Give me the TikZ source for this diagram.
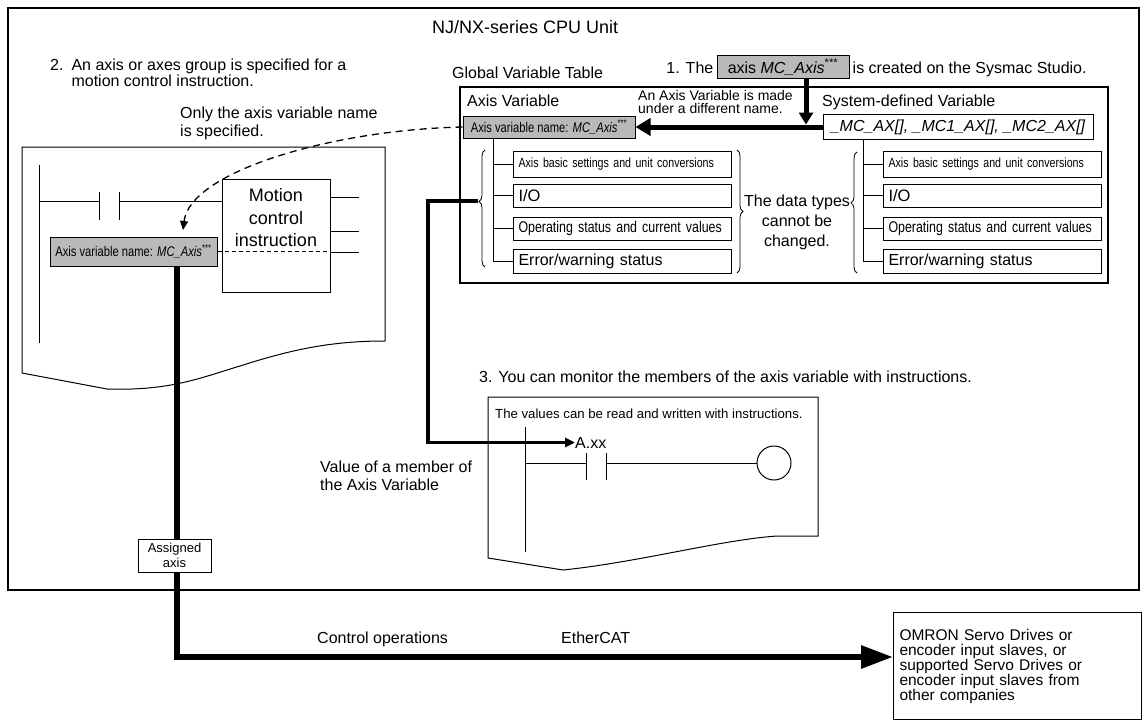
\documentclass[tikz,border=0pt]{standalone}
\usepackage{fontspec}
\setmainfont{Liberation Sans}
\newfontfamily\narrowfont[FakeStretch=0.8]{Liberation Sans}
\usepackage{tikz}
\usetikzlibrary{positioning}
\usetikzlibrary{shapes,decorations.pathreplacing,calc,arrows.meta}
\newcommand{\fs}[2]{\fontsize{#1}{#2}\selectfont}
\newcommand{\axisname}{\textit{MC\_Axis}\textsuperscript{***}}
\tikzset{
	frame/.style = {line width=2pt},
	table/.style = {line width=1.1pt},
	ladder/.style = {line width=1pt},
	txt/.style = {inner sep=0pt, align=left, font=\fs{16}{18}},
	namebox/.style = {draw, fill=gray!55, line width=1pt, inner xsep=2pt, inner ysep=0pt},
	member/.style = {draw, line width=1pt, anchor=west, minimum width=218pt,
	 text width=208pt, inner xsep=5pt, inner ysep=0pt, align=left},
	bus/.style = {line width=6pt, -{Triangle[length=32pt,width=22pt]}},
	fat/.style = {line width=5pt},
	probe/.style = {line width=3.5pt, -{Triangle[length=10pt,width=9pt]}},
	curly/.style = {decorate, line width=0.8pt, decoration={brace, amplitude=6pt, aspect=#1}},
	curly/.default = 0.5,
}

\begin{document}
\begin{tikzpicture}[x=1pt, y=-1pt]
\useasboundingbox (0,0) rectangle (1146,720);

% CPU Unit
\draw[frame] (8,8) rectangle (1139,590);
\node (cpu) [txt, font=\fs{18}{20}, anchor=base west] at (432,34) {NJ/NX-series CPU Unit};

% 2. instruction program (base = last line)
\node (step2) [txt, anchor=base west, font=\fs{16}{14}] at (50,86) {2.\enspace An axis or axes group is specified for a\\\phantom{2.\enspace}motion control instruction.};
\node (only) [txt, anchor=base west] at (180,136) {Only the axis variable name\\is specified.};
\draw[ladder] (385,341) -- (385,147) -- (22,147) -- (22,373) -- (107,389)
	.. controls (170,391) and (200,378) .. (240,366) .. controls (290,350) and (330,341) .. (385,341);
\draw[ladder] (39,165) -- (39,343);
\draw[ladder] (39,201) -- (99,201) (99,192) -- (99,220) (119,192) -- (119,220) (119,201) -- (222,201);
\node (mci) [draw, ladder, fill=white, minimum width=108pt, minimum height=113pt] at (276,235.5) {};
\node [txt, align=center, font=\fs{18}{22.5}, anchor=base] at (276,246.5) {Motion\\control\\instruction};
\foreach \y in {197,231,252} \draw[ladder] (330,\y) -- (359,\y);
\node (avname1) [namebox, minimum width=167pt, minimum height=29pt, font=\narrowfont\fs{14}{14}] at (133.5,251.5) {Axis variable name: \axisname};
\draw[ladder, dash pattern=on 4pt off 3pt] (avname1.east) -- (avname1.east -| mci.east);

% global variable table
\node (gvt) [txt, anchor=base west] at (452,78) {Global Variable Table};
\draw[table] (460,87) rectangle (1108,283);
\node (axisnew) [namebox, font=\fs{16}{16}, minimum width=132pt, minimum height=23pt, inner xsep=1.5pt] at (783,67) {axis \axisname};
\node [txt, anchor=base east] at ([xshift=-3pt]axisnew.base west) {1. The};
\node [txt, anchor=base west] at ([xshift=3pt]axisnew.base east) {is created on the Sysmac Studio.};
\node (axvar) [txt, anchor=base west] at (467,106) {Axis Variable};
\node (madenote) [txt, anchor=base west, font=\fs{14}{13.5}] at (638,113.5) {An Axis Variable is made\\under a different name.};
\node (sysdef) [txt, anchor=base west] at (822,106) {System-defined Variable};
\node (avname2) [namebox, minimum width=172pt, minimum height=22pt, font=\narrowfont\fs{14}{14}] at (549,127) {Axis variable name: \axisname};
\node (sysvar) [draw, ladder, minimum width=270pt, minimum height=25pt, inner sep=0pt, font=\fs{16}{16}\itshape] at (958,127) {\_MC\_AX[], \_MC1\_AX[], \_MC2\_AX[]};
\coordinate (made) at (806,127);
\draw[fat] (sysvar.west) -- (made);
\draw[fat, -{Triangle[length=15pt,width=17pt]}] (made) -- (avname2.east);
\draw[fat, -{Triangle[length=12pt,width=14pt]}] (axisnew.south -| made) -- ([yshift=2.5pt]made);

% members of both variables
\foreach \side/\x in {a/513, s/883} {
	\node (\side1) [member, minimum height=26pt, font=\narrowfont\fs{13.3}{14}] at (\x,164) {Axis basic settings and unit conversions};
	\node (\side2) [member, minimum height=23pt, font=\fs{16.5}{17}] at (\x,195.5) {I/O};
	\node (\side3) [member, minimum height=23pt, font=\narrowfont\fs{15.5}{16}] at (\x,228.5) {Operating status and current values};
	\node (\side4) [member, minimum height=24pt, font=\fs{16}{17}] at (\x,261) {Error/warning status};
}
\coordinate (treea) at (493,138);
\coordinate (trees) at (863,140);
\foreach \side in {a,s} {
	\foreach \n in {1,2,3} \draw[ladder] (tree\side |- \side\n.west) -- (\side\n.west);
	\draw[ladder] (tree\side) |- (\side4.west);
}
\draw[curly=0.56] (485,267) -- (485,150);
\draw[curly] (737,150) -- (737,273);
\draw[curly=0.58] (857,273) -- (857,152);
\node (fixed) [txt, align=center, anchor=base, font=\fs{16}{20}] at (797,246) {The data types\\cannot be\\changed.};
\coordinate (pick) at (478,201);

% 3. monitoring
\node (step3) [txt, anchor=base west] at (479,382) {3. You can monitor the members of the axis variable with instructions.};
\draw[ladder] (818,536) -- (818,397) -- (488,397) -- (488,558) -- (563,570)
	.. controls (640,562) and (720,540) .. (777,536) -- cycle;
\node (rw) [txt, anchor=base west, font=\fs{13.2}{14}] at (495,418) {The values can be read and written with instructions.};
\draw[ladder] (525,427) -- (525,552);
\node (coil) [circle, draw, ladder, minimum size=34pt, inner sep=0pt] at (774,463) {};
\draw[ladder] (525,463) -- (586,463) (586,453) -- (586,480) (606,453) -- (606,480) (606,463) -- (coil.west);
\node (axx) [txt, anchor=base west] at (575,448) {A.xx};
\draw[probe] (pick) -- ++(-50,0) |- (axx.west);
\node (member) [txt, anchor=base west] at (320,490) {Value of a member of\\the Axis Variable};

% name link
\coordinate (drop) at (183,230);
\draw[line width=1.3pt, dash pattern=on 7pt off 5pt, -{Triangle[length=9pt,width=8pt]}] (avname2.west) .. controls (330,130) and (190,172) .. (drop);

% EtherCAT
\coordinate (bend) at (177,657);
\node (servo) [draw, ladder, anchor=north west, text width=236pt, inner xsep=6pt, inner ysep=4pt, minimum height=107pt, align=left, font=\fs{15.5}{15}] at (893,612) {OMRON Servo Drives or\\encoder input slaves, or\\supported Servo Drives or\\encoder input slaves from\\other companies};
\draw[bus] (avname1.south -| bend) -- (bend) -- (bend -| servo.west);
\node (asg) [draw, ladder, fill=white, minimum width=73pt, minimum height=33pt, inner sep=0pt, align=center, font=\fs{13}{15}] at (174.5,555.5) {Assigned\\axis};
\node (ctrl) [txt, anchor=base west] at (317,643) {Control operations};
\node (ecat) [txt, anchor=base west] at (561,643) {EtherCAT};
\end{tikzpicture}
\end{document}
